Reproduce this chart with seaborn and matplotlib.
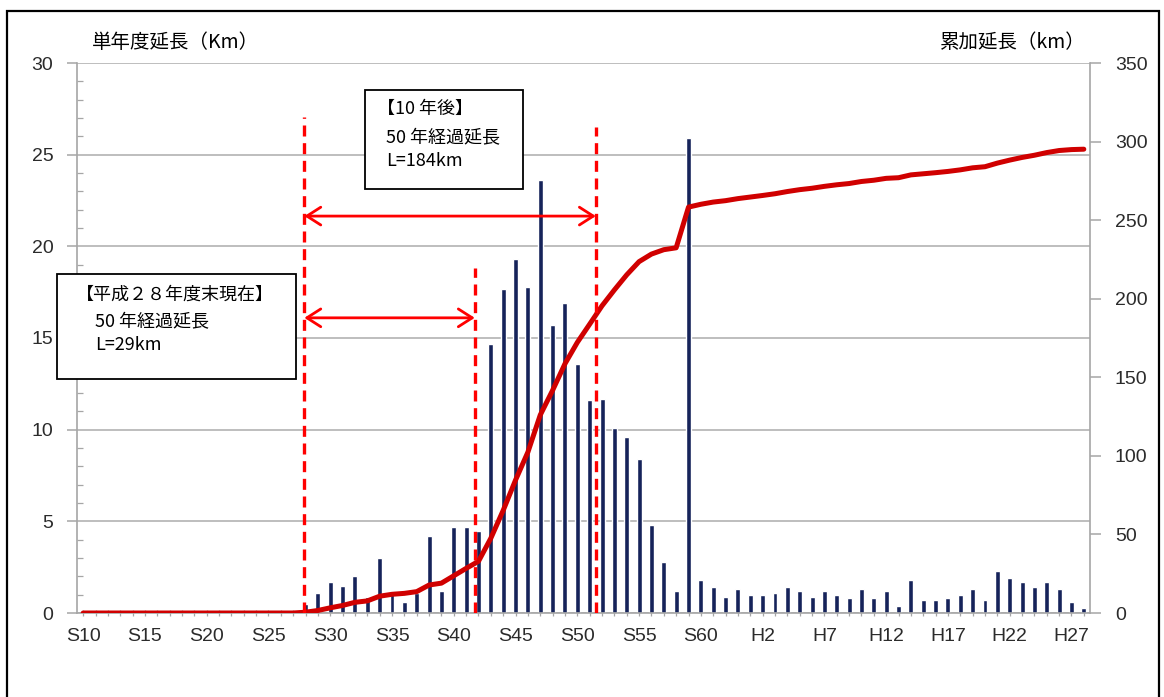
import numpy as np
import pandas as pd
import matplotlib
matplotlib.use("Agg")
import matplotlib.pyplot as plt
import seaborn as sns
from matplotlib.patches import Rectangle

# Fiscal years S10 (1935) .. S63, H1 .. H28 (2016)
years_showa = [f"S{n}" for n in range(10, 64)]
years_heisei = [f"H{n}" for n in range(1, 29)]
years = years_showa + years_heisei

# Annual length completed per fiscal year (km)
annual_showa = [0.0] * 18 + [
    0.5, 1.1, 1.7, 1.5, 2.0, 0.9, 3.0, 1.2, 0.6, 1.1,        # S28-S37
    4.2, 1.2, 4.7, 4.7, 4.5, 14.7, 17.7, 19.3, 17.8, 23.6,   # S38-S47
    15.7, 16.9, 13.6, 11.6, 11.7, 10.1, 9.6, 8.4, 4.8, 2.8,  # S48-S57
    1.2, 25.9, 1.8, 1.4, 0.9, 1.3,                           # S58-S63
]
annual_heisei = [
    1.0, 1.0, 1.1, 1.4, 1.2, 0.9, 1.2, 1.0, 0.8, 1.3,        # H1-H10
    0.8, 1.2, 0.4, 1.8, 0.7, 0.7, 0.8, 1.0, 1.3, 0.7,        # H11-H20
    2.3, 1.9, 1.7, 1.4, 1.7, 1.3, 0.6, 0.25,                 # H21-H28
]
annual_km = annual_showa + annual_heisei

left_ticks = [0, 5, 10, 15, 20, 25, 30]
right_ticks = [0, 50, 100, 150, 200, 250, 300, 350]

box_now = ["【平成２８年度末現在】", "50 年経過延長", "L=29km"]
box_later = ["【10 年後】", "50 年経過延長", "L=184km"]

df = pd.DataFrame({"year": years, "annual": annual_km})
df["pos"] = np.arange(len(df))
df["cumulative"] = df["annual"].cumsum()

BAR = "#16235a"
LINE = "#d00000"
RED = "#ff0000"
GRID = "#b9b9b9"
SPINE = "#a6a6a6"
TXT = "#2b2b2b"

sns.set_theme(style="white")
plt.rcParams["font.family"] = ["Liberation Sans", "Noto Sans CJK JP"]

W, H = 1164, 697
fig = plt.figure(figsize=(W / 100, H / 100), dpi=100)


def fx(x):
    return x / W


def fy(y):
    return 1 - y / H


ax = fig.add_axes([fx(77), fy(613), fx(1090 - 77), (613 - 63) / H])

sns.barplot(data=df, x="pos", y="annual", native_scale=True, color=BAR,
            saturation=1, width=0.4, errorbar=None, ax=ax, zorder=2)
ax.set_xlim(-0.5, len(years) - 0.5)
ax.set_ylim(0, 30)
ax.set_xlabel("")
ax.set_ylabel("")

ax.set_yticks(left_ticks)
ax.set_yticks(np.arange(0, 31, 1), minor=True)
ax.yaxis.grid(True, which="major", color=GRID, lw=1.3, zorder=0)
ax.set_axisbelow(True)
ax.tick_params(axis="y", which="major", direction="out", length=7, width=1.1,
               color=SPINE, labelsize=14, labelcolor=TXT, pad=10, left=True)
ax.tick_params(axis="y", which="minor", direction="in", length=4, width=0.9,
               color=SPINE, left=True)

ax.set_xticks(df["pos"][::5])
ax.set_xticklabels(years[::5])
ax.set_xticks(df["pos"], minor=True)
ax.tick_params(axis="x", which="both", direction="inout", length=5, width=0.9,
               color=SPINE, bottom=True, labelsize=14, labelcolor=TXT, pad=8)

for side in ("top", "right"):
    ax.spines[side].set_visible(False)
for side in ("left", "bottom"):
    ax.spines[side].set_color(SPINE)
    ax.spines[side].set_linewidth(1.2)

ax2 = ax.twinx()
sns.lineplot(data=df, x="pos", y="cumulative", ax=ax2, color=LINE, lw=3.6,
             solid_joinstyle="round", solid_capstyle="round", zorder=4)
ax2.set_ylim(0, 350)
ax2.set_ylabel("")
ax2.set_yticks(right_ticks)
ax2.tick_params(axis="y", direction="out", length=8, width=1.1, color=SPINE,
                labelsize=14, labelcolor=TXT, pad=10, right=True)
for side in ("top", "left", "bottom"):
    ax2.spines[side].set_visible(False)
ax2.spines["right"].set_color(SPINE)
ax2.spines["right"].set_linewidth(1.2)

# Dashed markers of the 50-year thresholds
dash = (0, (3.3, 2.0))
for xv, top in [(17.9, 0.902), (31.7, 0.627), (41.5, 0.884)]:
    ax2.axvline(xv, ymin=0, ymax=top, color=RED, lw=2.4, linestyle=dash,
                zorder=6)

# Double-headed span arrows (y in left-axis units)
for x0, x1, yv in [(17.9, 41.5, 21.65), (17.9, 31.7, 16.1)]:
    ax2.annotate("", xy=(x1, yv), xytext=(x0, yv), xycoords=ax.transData,
                 textcoords=ax.transData,
                 arrowprops=dict(arrowstyle="<->, head_length=0.5, head_width=0.32",
                                 color=RED, lw=2.0, shrinkA=0, shrinkB=0,
                                 mutation_scale=20),
                 zorder=7)

# Axis titles
fig.text(fx(92), fy(42), "単年度延長（Km）", fontsize=14, color="black",
         ha="left", va="center",
         family=["Noto Sans CJK JP", "Liberation Sans"])
fig.text(fx(1086), fy(42), "累加延長（km）", fontsize=14, color="black",
         ha="right", va="center",
         family=["Noto Sans CJK JP", "Liberation Sans"])


def note_box(x0, y0, x1, y1, lines, xs, ys):
    rect = Rectangle((fx(x0), fy(y1)), fx(x1 - x0), (y1 - y0) / H,
                     transform=fig.transFigure, facecolor="white",
                     edgecolor="black", lw=1.3, zorder=10)
    fig.add_artist(rect)
    for s, xx, yy in zip(lines, xs, ys):
        t = fig.text(fx(xx), fy(yy), s, fontsize=13, color="black",
                     ha="left", va="center",
                     family=["Noto Sans CJK JP", "DejaVu Sans"])
        t.set_zorder(11)


note_box(57, 274, 296, 379, box_now, [76, 95, 95], [295, 322, 345])
note_box(365, 90, 523, 189, box_later, [377, 386, 386], [109, 138, 161])

# Outer frame
frame = Rectangle((fx(7), fy(700)), fx(1159 - 7), (700 - 11) / H,
                  transform=fig.transFigure, facecolor="none",
                  edgecolor="black", lw=1.6, zorder=12)
fig.add_artist(frame)

fig.savefig("out.png", dpi=100, facecolor="white")
